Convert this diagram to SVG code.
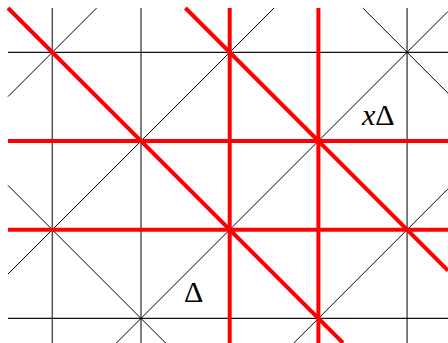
<svg xmlns="http://www.w3.org/2000/svg" width="448" height="343" viewBox="0 0 448 343">
<style>
.v{stroke:#555;stroke-width:1.5;fill:none}
.h{stroke:#111;stroke-width:1.2;fill:none}
.d{stroke:#000;stroke-width:1;fill:none}
.r{stroke:#ff0000;stroke-width:4;fill:none}
.t{font-family:"Liberation Serif","Times New Roman",serif;font-size:30px;fill:#000}
</style>
<rect width="448" height="343" fill="#fff"/>
<g id="grid">
<line class="v" x1="52.3" y1="8" x2="52.3" y2="343"/>
<line class="v" x1="141" y1="8" x2="141" y2="343"/>
<line class="v" x1="407.1" y1="8" x2="407.1" y2="343"/>
<line class="h" x1="8" y1="52.3" x2="448" y2="52.3"/>
<line class="h" x1="8" y1="318.4" x2="448" y2="318.4"/>
<line class="d" x1="8" y1="96.6" x2="96.6" y2="8"/>
<line class="d" x1="8" y1="274" x2="274" y2="8"/>
<line class="d" x1="116.4" y1="343" x2="448" y2="11.4"/>
<line class="d" x1="293.8" y1="343" x2="448" y2="188.8"/>
<line class="d" x1="362.8" y1="8" x2="448" y2="93.2"/>
<line class="d" x1="8" y1="185.4" x2="165.6" y2="343"/>
</g>
<g id="red">
<line class="r" x1="229.7" y1="8" x2="229.7" y2="343"/>
<line class="r" x1="318.4" y1="8" x2="318.4" y2="343"/>
<line class="r" x1="8" y1="141" x2="448" y2="141"/>
<line class="r" x1="8" y1="229.7" x2="448" y2="229.7"/>
<line class="r" x1="8" y1="8" x2="343" y2="343"/>
<line class="r" x1="185.4" y1="8" x2="448" y2="270.6"/>
</g>
<g id="labels">
<text class="t" x="362" y="125"><tspan font-style="italic">x</tspan>Δ</text>
<text class="t" x="184" y="302">Δ</text>
</g>
</svg>
